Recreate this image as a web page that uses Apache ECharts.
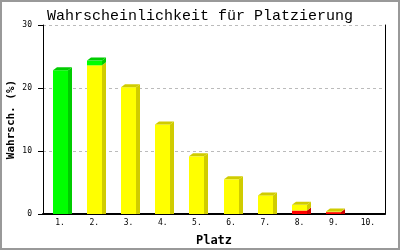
<!DOCTYPE html>
<html><head><meta charset="utf-8">
<script src="https://cdn.jsdelivr.net/npm/echarts@6/dist/echarts.min.js"></script>
<style>html,body{margin:0;padding:0;background:#fff}#c{width:400px;height:250px}</style>
</head><body><div id="c"></div>
<script>
var categories = ['1.', '2.', '3.', '4.', '5.', '6.', '7.', '8.', '9.', '10.'];
var redValues    = [0, 0, 0, 0, 0, 0, 0, 0.55, 0.3, 0];
var yellowValues = [0, 23.6, 20.1, 14.2, 9.15, 5.5, 2.95, 0.9, 0.1, 0];
var greenValues  = [22.8, 0.75, 0, 0, 0, 0, 0, 0, 0, 0];
var yTicks = [0, 10, 20, 30];

var layers = [
  {vals: redValues, front: '#ff0000', dark: '#cc0000'},
  {vals: yellowValues, front: '#ffff00', dark: '#d0cc00'},
  {vals: greenValues, front: '#00ff00', dark: '#00cc00'}
];
var segs = [];
categories.forEach(function (c, i) {
  var base = 0, list = [];
  layers.forEach(function (L, k) {
    var v = L.vals[i];
    if (v > 0) { list.push([i, base, base + v, k, 0, base === 0 ? 1 : 0]); base += v; }
  });
  if (list.length) list[list.length - 1][4] = 1;
  segs = segs.concat(list);
});

var chart = echarts.init(document.getElementById('c'));
var W = 15, DX = 4, DY = 3;
chart.setOption({
  animation: false,
  title: {text: 'Wahrscheinlichkeit für Platzierung', left: 'center', top: 4,
    textStyle: {fontFamily: 'Liberation Mono', fontSize: 15, fontWeight: 'normal', color: '#000'}},
  graphic: [{type: 'rect', shape: {x: 1, y: 1, width: 398, height: 248}, style: {fill: 'none', stroke: '#999', lineWidth: 2}, silent: true}],
  grid: {left: 43, right: 15, top: 25, bottom: 36, containLabel: false, outerBoundsMode: 'none'},
  xAxis: {type: 'category', data: categories, name: 'Platz', nameLocation: 'middle', nameGap: 21, nameMoveOverlap: false,
    nameTextStyle: {fontFamily: 'DejaVu Sans Mono', fontSize: 12, fontWeight: 'bold', color: '#000'},
    axisLine: {lineStyle: {color: '#000', width: 2}}, axisTick: {show: false},
    axisLabel: {fontFamily: 'DejaVu Sans Mono', fontSize: 8, color: '#000', margin: 5}},
  yAxis: [{type: 'value', min: yTicks[0], max: yTicks[yTicks.length - 1], interval: 10,
    name: 'Wahrsch. (%)', nameLocation: 'middle', nameGap: 26, nameMoveOverlap: false,
    nameTextStyle: {fontFamily: 'DejaVu Sans Mono', fontSize: 11, fontWeight: 'bold', color: '#000'},
    axisLine: {show: true, lineStyle: {color: '#000', width: 1}},
    axisTick: {show: true, length: 5, lineStyle: {color: '#000'}},
    axisLabel: {fontFamily: 'DejaVu Sans Mono', fontSize: 8, color: '#000', margin: 11},
    splitLine: {lineStyle: {color: '#bbb', type: [3, 3]}}},
   {type: 'value', min: 0, max: 30, interval: 10, position: 'right',
    axisLine: {show: true, lineStyle: {color: '#000', width: 1}}, axisTick: {show: false},
    axisLabel: {show: false}, splitLine: {show: false}}],
  series: [{type: 'custom', data: segs, encode: {x: 0, y: [1, 2]},
    renderItem: function (params, api) {
      var i = api.value(0), b = api.value(1), t = api.value(2), k = api.value(3);
      var isTop = api.value(4), isBottom = api.value(5);
      var pb = api.coord([i, b]), pt = api.coord([i, t]);
      var x = Math.round(pb[0] - W / 2), yb = pb[1], yt = pt[1];
      var L = layers[k];
      var ch = [];
      ch.push({type: 'polygon', shape: {points: [[x + W, yt], [x + W + DX, yt - DY], [x + W + DX, yb - (isBottom ? 0 : DY)], [x + W, yb]]},
        style: {fill: L.dark}});
      ch.push({type: 'rect', shape: {x: x, y: yt, width: W, height: yb - yt}, style: {fill: L.front}});
      if (isTop) ch.push({type: 'polygon', shape: {points: [[x, yt], [x + DX, yt - DY], [x + W + DX, yt - DY], [x + W, yt]]},
        style: {fill: L.dark}});
      return {type: 'group', children: ch};
    }}]
});
</script></body></html>
